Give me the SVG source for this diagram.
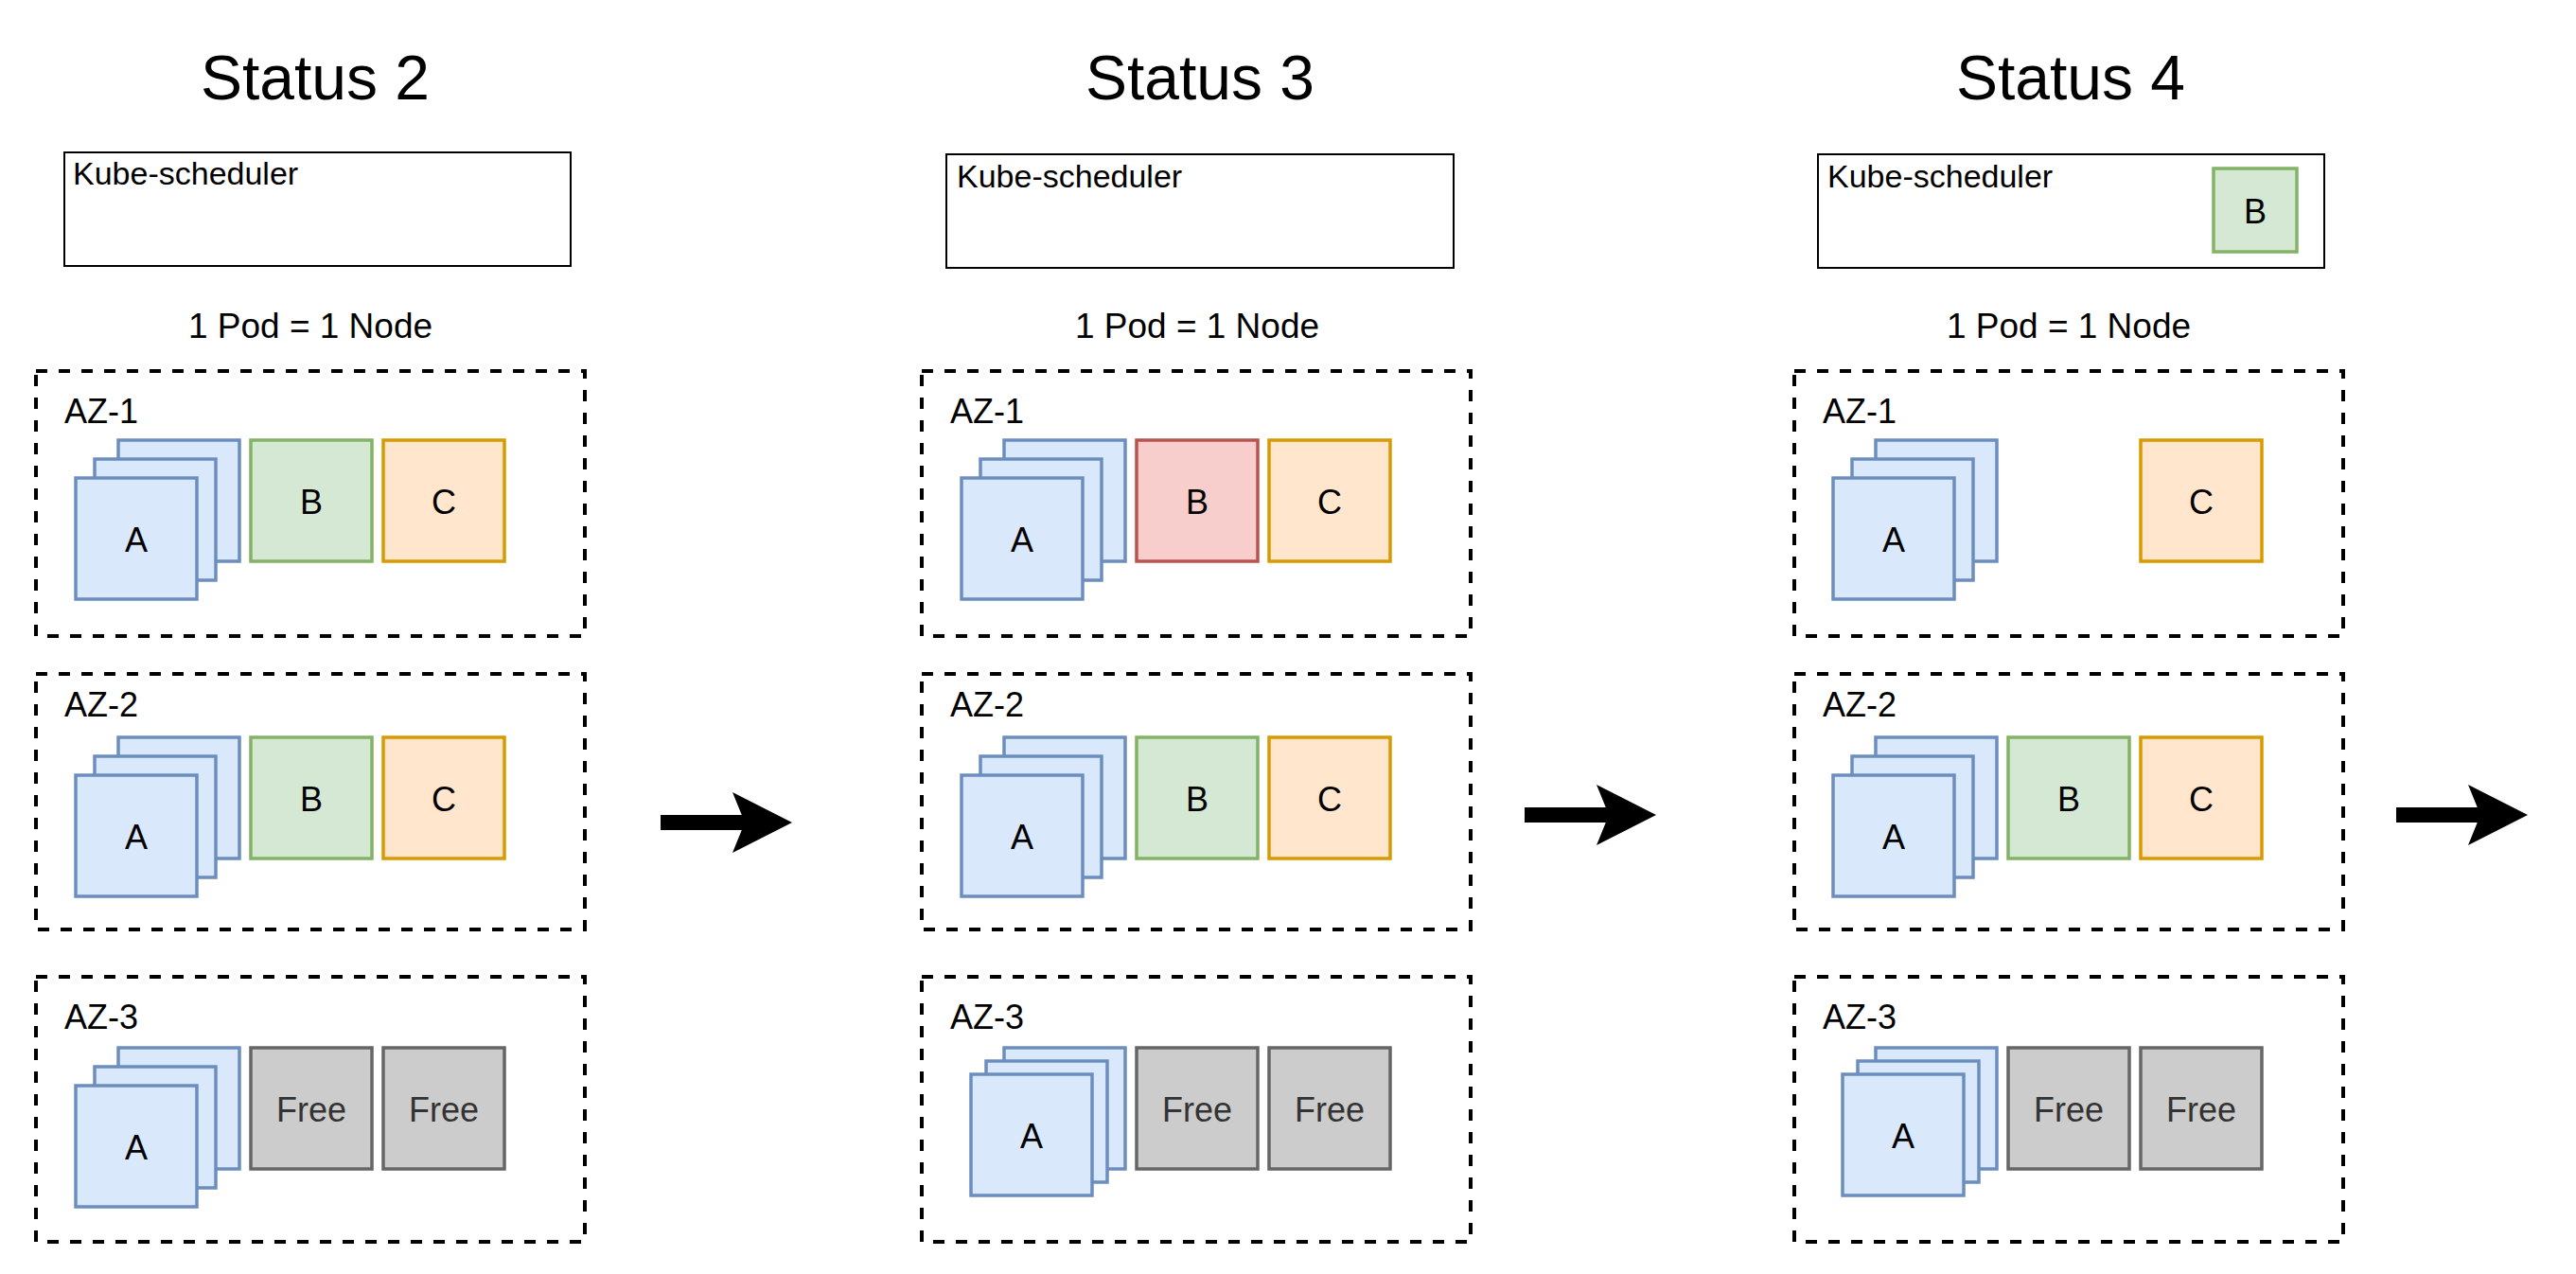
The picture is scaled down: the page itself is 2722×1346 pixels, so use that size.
<svg xmlns="http://www.w3.org/2000/svg" width="2722" height="1346" viewBox="0 0 2722 1346">
<style>
text{font-family:"Liberation Sans",Arial,Helvetica,sans-serif;fill:#000}
.title{font-size:66px;text-anchor:middle}
.ks{font-size:34px}
.pod{font-size:37px;text-anchor:middle}
.lbl{font-size:36px}
.t{font-size:36px;text-anchor:middle}
.tf{font-size:36px;text-anchor:middle;fill:#333333}
.kbox{fill:#fff;stroke:#000;stroke-width:2}
.az{fill:none;stroke:#000;stroke-width:4;stroke-dasharray:12 12}
.a{fill:#dae8fc;stroke:#6c8ebf;stroke-width:3.5}
.b{fill:#d5e8d4;stroke:#82b366;stroke-width:3.5}
.r{fill:#f8cecc;stroke:#b85450;stroke-width:3.5}
.c{fill:#ffe6cc;stroke:#d79b00;stroke-width:3.5}
.f{fill:#cccccc;stroke:#666666;stroke-width:3.5}
.conn{fill:none;stroke:#000;stroke-width:16}
</style>
<defs>
<marker id="head" markerUnits="userSpaceOnUse" markerWidth="63" markerHeight="64" viewBox="0 0 63 64" refX="13" refY="32" orient="auto">
<path d="M0,0 L63,32 L0,64 L13,32 Z" fill="#000"/>
</marker>
</defs>

<!-- Status 2 -->
<g id="status2">
<text class="title" x="333" y="105">Status 2</text>
<g id="s2-scheduler"><rect class="kbox" x="68" y="161" width="535" height="120"/><text class="ks" x="77" y="195">Kube-scheduler</text></g>
<text class="pod" x="328" y="357">1 Pod = 1 Node</text>
<g id="s2-az1">
<rect class="az" x="38" y="392" width="580" height="280"/>
<text class="lbl" x="68" y="447">AZ-1</text>
<rect class="a" x="125" y="465" width="128" height="128"/>
<rect class="a" x="100" y="485" width="128" height="128"/>
<rect class="a" x="80" y="505" width="128" height="128"/>
<text class="t" x="144" y="583">A</text>
<rect class="b" x="265" y="465" width="128" height="128"/><text class="t" x="329" y="543">B</text>
<rect class="c" x="405" y="465" width="128" height="128"/><text class="t" x="469" y="543">C</text>
</g>
<g id="s2-az2">
<rect class="az" x="38" y="712" width="580" height="270"/>
<text class="lbl" x="68" y="757">AZ-2</text>
<rect class="a" x="125" y="779" width="128" height="128"/>
<rect class="a" x="100" y="799" width="128" height="128"/>
<rect class="a" x="80" y="819" width="128" height="128"/>
<text class="t" x="144" y="897">A</text>
<rect class="b" x="265" y="779" width="128" height="128"/><text class="t" x="329" y="857">B</text>
<rect class="c" x="405" y="779" width="128" height="128"/><text class="t" x="469" y="857">C</text>
</g>
<g id="s2-az3">
<rect class="az" x="38" y="1032" width="580" height="280"/>
<text class="lbl" x="68" y="1087">AZ-3</text>
<rect class="a" x="125" y="1107" width="128" height="128"/>
<rect class="a" x="100" y="1127" width="128" height="128"/>
<rect class="a" x="80" y="1147" width="128" height="128"/>
<text class="t" x="144" y="1225">A</text>
<rect class="f" x="265" y="1107" width="128" height="128"/><text class="tf" x="329" y="1185">Free</text>
<rect class="f" x="405" y="1107" width="128" height="128"/><text class="tf" x="469" y="1185">Free</text>
</g>
</g>

<!-- Status 3 -->
<g id="status3">
<text class="title" x="1268" y="105">Status 3</text>
<g id="s3-scheduler"><rect class="kbox" x="1000" y="163" width="536" height="120"/><text class="ks" x="1011" y="198">Kube-scheduler</text></g>
<text class="pod" x="1265" y="357">1 Pod = 1 Node</text>
<g id="s3-az1">
<rect class="az" x="974" y="392" width="580" height="280"/>
<text class="lbl" x="1004" y="447">AZ-1</text>
<rect class="a" x="1061" y="465" width="128" height="128"/>
<rect class="a" x="1036" y="485" width="128" height="128"/>
<rect class="a" x="1016" y="505" width="128" height="128"/>
<text class="t" x="1080" y="583">A</text>
<rect class="r" x="1201" y="465" width="128" height="128"/><text class="t" x="1265" y="543">B</text>
<rect class="c" x="1341" y="465" width="128" height="128"/><text class="t" x="1405" y="543">C</text>
</g>
<g id="s3-az2">
<rect class="az" x="974" y="712" width="580" height="270"/>
<text class="lbl" x="1004" y="757">AZ-2</text>
<rect class="a" x="1061" y="779" width="128" height="128"/>
<rect class="a" x="1036" y="799" width="128" height="128"/>
<rect class="a" x="1016" y="819" width="128" height="128"/>
<text class="t" x="1080" y="897">A</text>
<rect class="b" x="1201" y="779" width="128" height="128"/><text class="t" x="1265" y="857">B</text>
<rect class="c" x="1341" y="779" width="128" height="128"/><text class="t" x="1405" y="857">C</text>
</g>
<g id="s3-az3">
<rect class="az" x="974" y="1032" width="580" height="280"/>
<text class="lbl" x="1004" y="1087">AZ-3</text>
<rect class="a" x="1061" y="1107" width="128" height="128"/>
<rect class="a" x="1042" y="1121" width="128" height="128"/>
<rect class="a" x="1026" y="1135" width="128" height="128"/>
<text class="t" x="1090" y="1213">A</text>
<rect class="f" x="1201" y="1107" width="128" height="128"/><text class="tf" x="1265" y="1185">Free</text>
<rect class="f" x="1341" y="1107" width="128" height="128"/><text class="tf" x="1405" y="1185">Free</text>
</g>
</g>

<!-- Status 4 -->
<g id="status4">
<text class="title" x="2188" y="105">Status 4</text>
<g id="s4-scheduler"><rect class="kbox" x="1921" y="163" width="535" height="120"/><text class="ks" x="1931" y="198">Kube-scheduler</text>
<rect class="b" x="2339" y="178" width="88" height="88"/><text class="t" x="2383" y="236">B</text></g>
<text class="pod" x="2186" y="357">1 Pod = 1 Node</text>
<g id="s4-az1">
<rect class="az" x="1896" y="392" width="580" height="280"/>
<text class="lbl" x="1926" y="447">AZ-1</text>
<rect class="a" x="1982" y="465" width="128" height="128"/>
<rect class="a" x="1957" y="485" width="128" height="128"/>
<rect class="a" x="1937" y="505" width="128" height="128"/>
<text class="t" x="2001" y="583">A</text>
<rect class="c" x="2262" y="465" width="128" height="128"/><text class="t" x="2326" y="543">C</text>
</g>
<g id="s4-az2">
<rect class="az" x="1896" y="712" width="580" height="270"/>
<text class="lbl" x="1926" y="757">AZ-2</text>
<rect class="a" x="1982" y="779" width="128" height="128"/>
<rect class="a" x="1957" y="799" width="128" height="128"/>
<rect class="a" x="1937" y="819" width="128" height="128"/>
<text class="t" x="2001" y="897">A</text>
<rect class="b" x="2122" y="779" width="128" height="128"/><text class="t" x="2186" y="857">B</text>
<rect class="c" x="2262" y="779" width="128" height="128"/><text class="t" x="2326" y="857">C</text>
</g>
<g id="s4-az3">
<rect class="az" x="1896" y="1032" width="580" height="280"/>
<text class="lbl" x="1926" y="1087">AZ-3</text>
<rect class="a" x="1982" y="1107" width="128" height="128"/>
<rect class="a" x="1963" y="1121" width="128" height="128"/>
<rect class="a" x="1947" y="1135" width="128" height="128"/>
<text class="t" x="2011" y="1213">A</text>
<rect class="f" x="2122" y="1107" width="128" height="128"/><text class="tf" x="2186" y="1185">Free</text>
<rect class="f" x="2262" y="1107" width="128" height="128"/><text class="tf" x="2326" y="1185">Free</text>
</g>
</g>

<g id="connectors">
<path class="conn" d="M698,869 L787,869" marker-end="url(#head)"/>
<path class="conn" d="M1611,861 L1700,861" marker-end="url(#head)"/>
<path class="conn" d="M2532,861 L2621,861" marker-end="url(#head)"/>
</g>
</svg>
